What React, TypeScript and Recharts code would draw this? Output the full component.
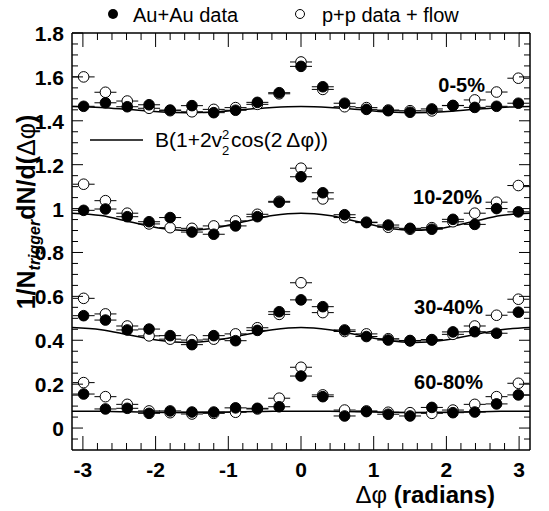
import React from 'react';
import { ComposedChart, XAxis, YAxis, Scatter, Line } from 'recharts';

const FONT = '"Liberation Sans", Arial, Helvetica, sans-serif';

// Δφ bin centres (radians)
const PHI = [-2.99, -2.69, -2.39, -2.09, -1.8, -1.5, -1.2, -0.9, -0.6, -0.3, 0, 0.3, 0.6, 0.9, 1.2, 1.5, 1.8, 2.09, 2.39, 2.69, 2.99];

// Au+Au data (filled) and p+p data + flow (open), per centrality
const AUAU_0_5 = [1.466, 1.482, 1.464, 1.473, 1.449, 1.469, 1.437, 1.448, 1.484, 1.528, 1.648, 1.555, 1.48, 1.452, 1.446, 1.439, 1.454, 1.469, 1.461, 1.466, 1.48];
const PP_0_5 = [1.6, 1.53, 1.49, 1.457, 1.446, 1.441, 1.452, 1.46, 1.475, 1.523, 1.668, 1.543, 1.464, 1.46, 1.449, 1.446, 1.445, 1.47, 1.495, 1.531, 1.594];

const AUAU_10_20 = [0.992, 0.998, 0.963, 0.94, 0.959, 0.893, 0.883, 0.921, 0.963, 1.029, 1.145, 1.072, 0.972, 0.936, 0.925, 0.91, 0.906, 0.951, 0.928, 1.0, 0.985];
const PP_10_20 = [1.111, 1.036, 0.979, 0.93, 0.913, 0.91, 0.921, 0.944, 0.974, 1.033, 1.184, 1.044, 0.959, 0.938, 0.915, 0.906, 0.913, 0.94, 0.979, 1.029, 1.105];

const AUAU_30_40 = [0.512, 0.492, 0.447, 0.451, 0.421, 0.38, 0.421, 0.398, 0.445, 0.53, 0.584, 0.553, 0.447, 0.417, 0.401, 0.397, 0.401, 0.438, 0.439, 0.432, 0.528];
const PP_30_40 = [0.591, 0.52, 0.465, 0.42, 0.405, 0.401, 0.405, 0.429, 0.457, 0.518, 0.662, 0.526, 0.44, 0.429, 0.407, 0.399, 0.403, 0.427, 0.465, 0.514, 0.587];

const AUAU_60_80 = [0.155, 0.087, 0.09, 0.067, 0.078, 0.073, 0.073, 0.092, 0.09, 0.097, 0.237, 0.143, 0.055, 0.075, 0.063, 0.055, 0.094, 0.07, 0.073, 0.11, 0.151];
const PP_60_80 = [0.207, 0.143, 0.108, 0.078, 0.07, 0.064, 0.067, 0.072, 0.087, 0.136, 0.277, 0.151, 0.082, 0.078, 0.072, 0.07, 0.067, 0.082, 0.108, 0.143, 0.204];

// flow background curves B(1+2v2^2cos(2Δφ))
const CURVE_PHI = [-3.15, -2.75, -2.36, -1.96, -1.57, -1.18, -0.79, -0.39, 0, 0.39, 0.79, 1.18, 1.57, 1.96, 2.36, 2.75, 3.15];
const FIT_0_5 = [1.465, 1.461, 1.451, 1.441, 1.437, 1.441, 1.451, 1.461, 1.465, 1.461, 1.451, 1.441, 1.437, 1.441, 1.451, 1.461, 1.465];
const FIT_10_20 = [0.979, 0.968, 0.94, 0.912, 0.901, 0.912, 0.94, 0.968, 0.979, 0.968, 0.94, 0.912, 0.901, 0.912, 0.94, 0.968, 0.979];
const FIT_30_40 = [0.458, 0.448, 0.424, 0.4, 0.39, 0.4, 0.424, 0.448, 0.458, 0.448, 0.424, 0.4, 0.39, 0.4, 0.424, 0.448, 0.458];
const FIT_60_80 = [0.077, 0.076, 0.074, 0.072, 0.071, 0.072, 0.074, 0.076, 0.077, 0.076, 0.074, 0.072, 0.071, 0.072, 0.074, 0.076, 0.077];

const X_DOMAIN = [-3.15, 3.15];
const Y_DOMAIN = [-0.1, 1.8];
const X_TICKS = [-3, -2.8, -2.6, -2.4, -2.2, -2, -1.8, -1.6, -1.4, -1.2, -1, -0.8, -0.6, -0.4, -0.2, 0, 0.2, 0.4, 0.6, 0.8, 1, 1.2, 1.4, 1.6, 1.8, 2, 2.2, 2.4, 2.6, 2.8, 3];
const Y_TICKS = [-0.05, 0, 0.05, 0.1, 0.15, 0.2, 0.25, 0.3, 0.35, 0.4, 0.45, 0.5, 0.55, 0.6, 0.65, 0.7, 0.75, 0.8, 0.85, 0.9, 0.95, 1, 1.05, 1.1, 1.15, 1.2, 1.25, 1.3, 1.35, 1.4, 1.45, 1.5, 1.55, 1.6, 1.65, 1.7, 1.75, 1.8];

const CENTRALITY_LABELS = ['0-5%', '10-20%', '30-40%', '60-80%'];
const LEGEND_FILLED = 'Au+Au data';
const LEGEND_OPEN = 'p+p data + flow';

const toPts = (xs: number[], ys: number[]) => xs.map((x, i) => ({ x, y: ys[i] }));

const isMajorX = (v: number) => Math.abs(v - Math.round(v)) < 1e-6;
const isMajorY = (v: number) => Math.abs(v * 5 - Math.round(v * 5)) < 1e-6;

function BottomTick(props: any) {
  const { x, y, payload } = props;
  const v = payload.value;
  const major = isMajorX(v);
  return (
    <g>
      <line x1={x} x2={x} y1={y} y2={y - (major ? 14 : 7)} stroke="#000" strokeWidth={1} />
      {major && (
        <text x={x} y={y + 27} textAnchor="middle" fontFamily={FONT} fontWeight="bold" fontSize={21} fill="#000">
          {String(v)}
        </text>
      )}
    </g>
  );
}

function TopTick(props: any) {
  const { x, y, payload } = props;
  const major = isMajorX(payload.value);
  return <line x1={x} x2={x} y1={y} y2={y + (major ? 14 : 7)} stroke="#000" strokeWidth={1} />;
}

function LeftTick(props: any) {
  const { x, y, payload } = props;
  const v = payload.value;
  const major = isMajorY(v);
  return (
    <g>
      <line x1={x} x2={x + (major ? 11 : 6)} y1={y} y2={y} stroke="#000" strokeWidth={1} />
      {major && (
        <text x={x - 8} y={y + 8} textAnchor="end" fontFamily={FONT} fontWeight="bold" fontSize={21} fill="#000">
          {String(Number(v.toFixed(1)))}
        </text>
      )}
    </g>
  );
}

function RightTick(props: any) {
  const { x, y, payload } = props;
  const major = isMajorY(payload.value);
  return <line x1={x} x2={x - (major ? 11 : 6)} y1={y} y2={y} stroke="#000" strokeWidth={1} />;
}

function XTitle() {
  return (
    <text x={495} y={503} textAnchor="end" fontFamily={FONT} fontWeight="bold" fontSize={24} fill="#000">
      <tspan fontWeight="normal">Δφ</tspan> (radians)
    </text>
  );
}

function YTitle() {
  return (
    <text transform="translate(35,212) rotate(-90)" textAnchor="middle" fontFamily={FONT} fontWeight="bold" fontSize={25} fill="#000">
      1/N<tspan fontSize={16} fontStyle="italic" dy={5}>trigger</tspan>
      <tspan dy={-5}>dN/d(</tspan>
      <tspan fontWeight="normal">Δφ</tspan>)
    </text>
  );
}

function Overlay() {
  return (
    <g fontFamily={FONT} fill="#000">
      <circle cx={113} cy={14} r={5} fill="#000" />
      <text x={133} y={22} fontSize={20}>{LEGEND_FILLED}</text>
      <circle cx={300} cy={14} r={4.5} fill="#fff" stroke="#000" strokeWidth={1} />
      <text x={322} y={22} fontSize={20}>{LEGEND_OPEN}</text>

      <line x1={90} x2={143} y1={140} y2={140} stroke="#000" strokeWidth={1.5} />
      <text x={155} y={147} fontSize={21}>B(1+2v</text>
      <text x={222} y={139} fontSize={13}>2</text>
      <text x={222} y={155} fontSize={13}>2</text>
      <text x={231} y={147} fontSize={21}>cos(2<tspan dx={4}>Δφ))</tspan></text>

      <text x={485} y={92} fontSize={20} fontWeight="bold" textAnchor="end">{CENTRALITY_LABELS[0]}</text>
      <text x={482} y={204} fontSize={20} fontWeight="bold" textAnchor="end">{CENTRALITY_LABELS[1]}</text>
      <text x={483} y={314} fontSize={20} fontWeight="bold" textAnchor="end">{CENTRALITY_LABELS[2]}</text>
      <text x={483} y={389} fontSize={20} fontWeight="bold" textAnchor="end">{CENTRALITY_LABELS[3]}</text>
    </g>
  );
}

function Marker(props: any) {
  const { cx, cy, filled } = props;
  if (cx == null || cy == null) return null;
  return (
    <g>
      <line x1={cx - 11} x2={cx + 11} y1={cy} y2={cy} stroke="#000" strokeWidth={1} />
      <circle cx={cx} cy={cy} r={5.3} fill={filled ? '#000' : '#fff'} stroke="#000" strokeWidth={1} />
    </g>
  );
}

const FilledShape = (p: any) => <Marker {...p} filled />;
const OpenShape = (p: any) => <Marker {...p} filled={false} />;

const CURVES = [FIT_0_5, FIT_10_20, FIT_30_40, FIT_60_80];
const OPEN_SETS = [PP_0_5, PP_10_20, PP_30_40, PP_60_80];
const FILLED_SETS = [AUAU_0_5, AUAU_10_20, AUAU_30_40, AUAU_60_80];

export default function App() {
  const axisLine = { stroke: '#000', strokeWidth: 1.5 };
  return (
    <div style={{ position: 'absolute', left: 0, top: 0, width: 549, height: 511, background: '#fff' }}>
      <ComposedChart width={549} height={511} margin={{ top: 0, right: 0, bottom: 0, left: 0 }} style={{ overflow: 'visible' }}>
        <XAxis xAxisId="b" type="number" dataKey="x" domain={X_DOMAIN} allowDataOverflow ticks={X_TICKS} interval={0}
          height={61} tickSize={0} tickMargin={0} tickLine={false} tick={<BottomTick />} axisLine={axisLine} label={<XTitle />} />
        <XAxis xAxisId="t" orientation="top" type="number" dataKey="x" domain={X_DOMAIN} allowDataOverflow ticks={X_TICKS} interval={0}
          height={33} tickSize={0} tickMargin={0} tickLine={false} tick={<TopTick />} axisLine={axisLine} label={<Overlay />} />
        <YAxis yAxisId="l" type="number" dataKey="y" domain={Y_DOMAIN} allowDataOverflow ticks={Y_TICKS} interval={0}
          width={72} tickSize={0} tickMargin={0} tickLine={false} tick={<LeftTick />} axisLine={axisLine} label={<YTitle />} />
        <YAxis yAxisId="r" orientation="right" type="number" dataKey="y" domain={Y_DOMAIN} allowDataOverflow ticks={Y_TICKS} interval={0}
          width={19} tickSize={0} tickMargin={0} tickLine={false} tick={<RightTick />} axisLine={axisLine} />

        {CURVES.map((c, i) => (
          <Line key={'fit' + i} xAxisId="b" yAxisId="l" data={toPts(CURVE_PHI, c)} dataKey="y" type="monotone"
            stroke="#000" strokeWidth={1.5} dot={false} activeDot={false} isAnimationActive={false} />
        ))}
        {OPEN_SETS.map((s, i) => (
          <Scatter key={'pp' + i} xAxisId="b" yAxisId="l" data={toPts(PHI, s)} shape={OpenShape} isAnimationActive={false} />
        ))}
        {FILLED_SETS.map((s, i) => (
          <Scatter key={'au' + i} xAxisId="b" yAxisId="l" data={toPts(PHI, s)} shape={FilledShape} isAnimationActive={false} />
        ))}
      </ComposedChart>
    </div>
  );
}
